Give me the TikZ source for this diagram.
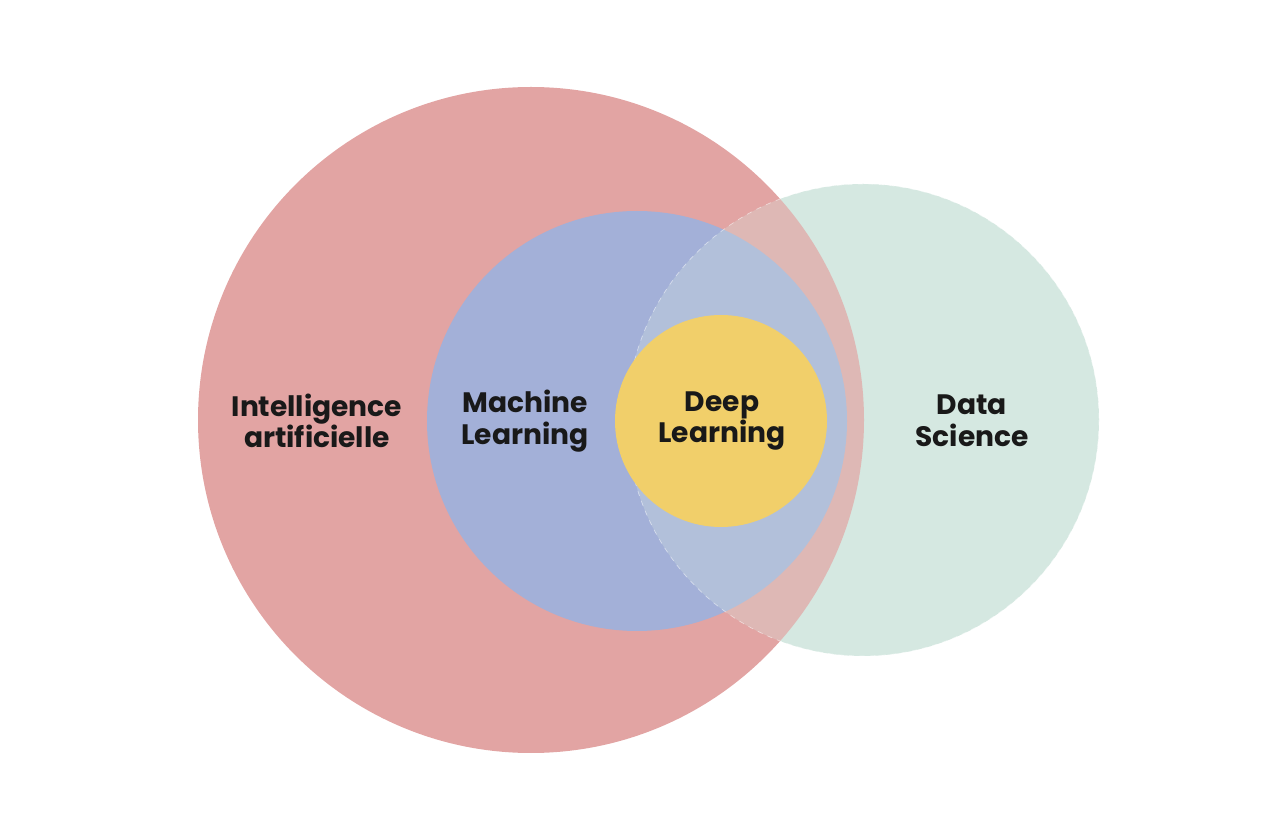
\documentclass[tikz,border=0pt]{standalone}
\usepackage{fontspec}
\setmainfont{Poppins}
\definecolor{aired}{HTML}{E2A4A3}
\definecolor{mlblue}{HTML}{A3B0D8}
\definecolor{dlyellow}{HTML}{F1CF6A}
\definecolor{dsgreen}{HTML}{D5E8E1}
\tikzset{label text/.style={font=\fontsize{16}{18}\selectfont\bfseries,align=center,text=black!90}}

\begin{document}
\begin{tikzpicture}[x=0.2mm,y=-0.2mm]
	\useasboundingbox (0,0) rectangle (1280,817);

	\coordinate (ai) at (531, 420);
	\coordinate (ml) at (637, 421);
	\coordinate (dl) at (721, 421);
	\coordinate (ds) at (863, 420);

	\fill[dsgreen] (ds) circle[radius=236];
	\fill[aired] (ai) circle[radius=333];
	\fill[mlblue] (ml) circle[radius=210];
	% overlap of data science over the others
	\fill[dsgreen,opacity=0.3] (ds) circle[radius=236];
	\draw[white,opacity=0.5,dashed,thin] (ds) circle[radius=236];
	\fill[dlyellow] (dl) circle[radius=106];

	\node[label text] (ai label) at (317, 421) {Intelligence\\artificielle};
	\node[label text] (ml label) at (525, 421) {Machine\\Learning};
	\node[label text] (dl label) at (722, 421) {Deep\\Learning};
	\node[label text] (ds label) at (972, 421) {Data\\Science};

\end{tikzpicture}
\end{document}
